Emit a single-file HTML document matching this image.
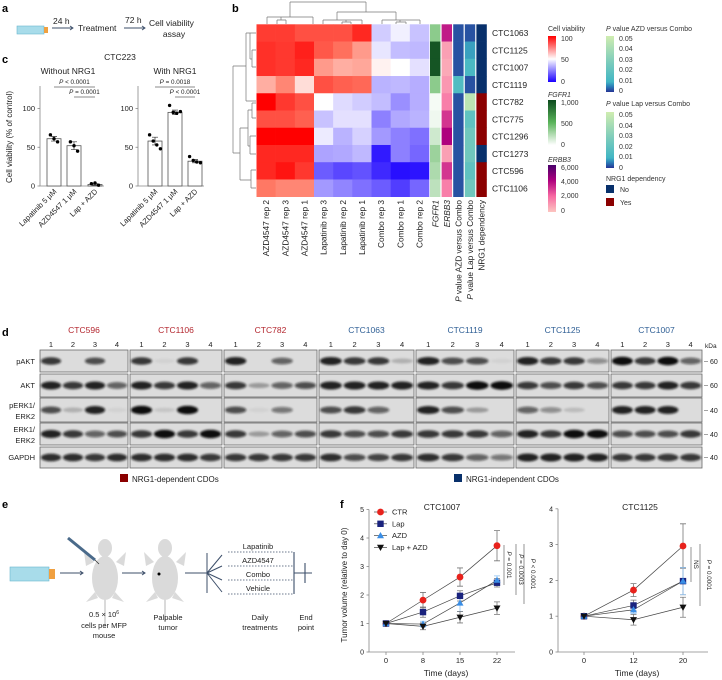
<!DOCTYPE html>
<html><head><meta charset="utf-8"><style>
html,body{margin:0;padding:0;background:#fff;}
svg{display:block;font-family:"Liberation Sans",sans-serif;}
</style></head><body>
<svg id="fig" width="722" height="680" viewBox="0 0 722 680" xmlns="http://www.w3.org/2000/svg">
<defs>
<linearGradient id="gViab" x1="0" y1="0" x2="0" y2="1"><stop offset="0" stop-color="#ff0000"/><stop offset="0.5" stop-color="#ffffff"/><stop offset="1" stop-color="#1a00ff"/></linearGradient>
<linearGradient id="gFg" x1="0" y1="0" x2="0" y2="1"><stop offset="0" stop-color="#0d4a1e"/><stop offset="0.5" stop-color="#5ab45a"/><stop offset="1" stop-color="#ffffff"/></linearGradient>
<linearGradient id="gEr" x1="0" y1="0" x2="0" y2="1"><stop offset="0" stop-color="#49006a"/><stop offset="0.33" stop-color="#ae017e"/><stop offset="0.66" stop-color="#f768a1"/><stop offset="1" stop-color="#fcc5c0"/></linearGradient>
<linearGradient id="gP" x1="0" y1="0" x2="0" y2="1"><stop offset="0" stop-color="#d0edb0"/><stop offset="0.45" stop-color="#7fcdbb"/><stop offset="0.82" stop-color="#41b6c4"/><stop offset="0.9" stop-color="#2c7fb8"/><stop offset="1" stop-color="#253494"/></linearGradient>
<filter id="blur" x="-20%" y="-50%" width="140%" height="200%"><feGaussianBlur stdDeviation="1.1"/></filter>
</defs>
<g font-weight="bold" font-size="11">
<text x="2" y="12">a</text>
<text x="232" y="12">b</text>
<text x="2" y="63">c</text>
<text x="2" y="336">d</text>
<text x="2" y="508">e</text>
<text x="340" y="508">f</text>
</g>
<g font-size="8.5" fill="#222">
<rect x="17" y="26" width="27" height="8" fill="#a8dcea" stroke="#6ab7cf" stroke-width="0.6"/>
<rect x="44" y="27" width="4" height="6" fill="#f0a040"/>
<text x="53" y="24">24 h</text>
<path d="M52 28 H73 M70 26 L73 28 L70 30" stroke="#3d4f6a" fill="none" stroke-width="0.9"/>
<text x="78" y="31">Treatment</text>
<text x="125" y="23">72 h</text>
<path d="M124 28 H145 M142 26 L145 28 L142 30" stroke="#3d4f6a" fill="none" stroke-width="0.9"/>
<text x="149" y="26">Cell viability</text>
<text x="174" y="37" text-anchor="middle">assay</text>
</g>
<g font-size="7.5" fill="#222">
<rect x="10" y="567" width="39" height="14" fill="#a8dcea" stroke="#6ab7cf" stroke-width="0.6"/>
<rect x="49" y="569" width="6" height="10" fill="#f0a040"/>
<path d="M60 573 H83 M80 571 L83 573 L80 575" stroke="#3d4f6a" fill="none"/>
<g fill="#dadada">
<ellipse cx="105" cy="548" rx="7" ry="9"/><ellipse cx="105" cy="578" rx="13" ry="22"/>
<path d="M94 562 L84 552 L86 566 Z M116 562 L126 552 L124 566 Z M95 592 L86 602 L98 598 Z M115 592 L124 602 L112 598 Z"/>
<rect x="104" y="598" width="2" height="30"/>
</g>
<path d="M68 538 L95 560" stroke="#4a6a8a" stroke-width="3"/>
<path d="M95 560 L99 564" stroke="#333" stroke-width="0.8"/>
<path d="M122 573 H145 M142 571 L145 573 L142 575" stroke="#3d4f6a" fill="none"/>
<g fill="#dadada">
<ellipse cx="165" cy="548" rx="7" ry="9"/><ellipse cx="165" cy="578" rx="13" ry="22"/>
<path d="M154 562 L144 552 L146 566 Z M176 562 L186 552 L184 566 Z M155 592 L146 602 L158 598 Z M175 592 L184 602 L172 598 Z"/>
<rect x="164" y="598" width="2" height="24"/>
</g>
<circle cx="159" cy="574" r="1.5" fill="#000"/>
<path d="M185 573 H207 M207 553 V593 M207 573 L222 555 M207 573 L222 566 M207 573 L222 580 M207 573 L222 592" stroke="#3d4f6a" fill="none" stroke-width="1"/>
<path d="M228 552 H293 M228 566 H293 M228 580 H293 M228 594 H293" stroke="#3d4f6a" stroke-dasharray="1.5,1.5" stroke-width="0.7"/>
<path d="M294 552 V594 M294 573 H312 M305 563 V583" stroke="#3d4f6a" stroke-width="1.1" fill="none"/>
<g text-anchor="middle">
<text x="258" y="549">Lapatinib</text>
<text x="258" y="563">AZD4547</text>
<text x="258" y="577">Combo</text>
<text x="258" y="591">Vehicle</text>
<text x="104" y="617">0.5 × 10<tspan dy="-3" font-size="5">6</tspan></text>
<text x="104" y="628">cells per MFP</text>
<text x="104" y="638">mouse</text>
<text x="168" y="620">Palpable</text>
<text x="168" y="630">tumor</text>
<text x="260" y="620">Daily</text>
<text x="260" y="630">treatments</text>
<text x="306" y="620">End</text>
<text x="306" y="630">point</text>
</g>
</g>
<g font-size="7" fill="#333">
<text x="548" y="31">Cell viability</text>
<rect x="548" y="36" width="8" height="46" fill="url(#gViab)"/>
<text x="561" y="41">100</text><text x="561" y="62">50</text><text x="561" y="84">0</text>
<text x="548" y="97" font-style="italic">FGFR1</text>
<rect x="548" y="100" width="8" height="45" fill="url(#gFg)"/>
<text x="561" y="105">1,000</text><text x="561" y="126">500</text><text x="561" y="147">0</text>
<text x="548" y="162" font-style="italic">ERBB3</text>
<rect x="548" y="165" width="8" height="47" fill="url(#gEr)"/>
<text x="561" y="170">6,000</text><text x="561" y="184">4,000</text><text x="561" y="198">2,000</text><text x="561" y="213">0</text>
<text x="606" y="31"><tspan font-style="italic">P</tspan> value AZD versus Combo</text>
<rect x="606" y="36" width="8" height="56" fill="url(#gP)"/>
<text x="619" y="41">0.05</text><text x="619" y="51">0.04</text><text x="619" y="62">0.03</text><text x="619" y="72">0.02</text><text x="619" y="83">0.01</text><text x="619" y="93">0</text>
<text x="606" y="106"><tspan font-style="italic">P</tspan> value Lap versus Combo</text>
<rect x="606" y="112" width="8" height="56" fill="url(#gP)"/>
<text x="619" y="117">0.05</text><text x="619" y="128">0.04</text><text x="619" y="138">0.03</text><text x="619" y="149">0.02</text><text x="619" y="159">0.01</text><text x="619" y="170">0</text>
<text x="606" y="181">NRG1 dependency</text>
<rect x="606" y="185" width="8" height="8" fill="#08306b"/><text x="620" y="192">No</text>
<rect x="606" y="198" width="8" height="8" fill="#8b0000"/><text x="620" y="205">Yes</text>
</g>
<path d="M290 2 H366 M290 2 V17 M366 2 V12 M267 17 H313 M267 17 V24 M313 17 V24 M281 17 V20 M277 20 H286 M277 20 V24 M286 20 V24 M337 12 H396 M337 12 V20 M396 12 V20 M323 20 H362 M323 20 V24 M362 20 V24 M346 20 V22 M342 22 H351 M342 22 V24 M351 22 V24 M382 20 H420 M382 20 V24 M420 20 V24 M400 20 V22 M396 22 H406 M396 22 V24 M406 22 V24" stroke="#777" stroke-width="0.7" fill="none"/>
<path d="M233 66 V153 M233 66 H246 M233 153 H240 M246 33 V101 M246 101 H256 M246 33 H250 M250 33 V59 M250 33 H256 M250 59 H252 M252 50 V67 M252 50 H256 M252 67 H256 M240 128 V180 M240 128 H248 M240 180 H251 M251 170 V188 M251 170 H256 M251 188 H256 M248 110 V146 M248 110 H252 M252 103 V118 M252 103 H256 M252 118 H256 M248 146 H250 M250 136 V154 M250 136 H256 M250 154 H256" stroke="#777" stroke-width="0.7" fill="none"/>
<g id="heat"></g>
<g id="cc"></g>
<g id="blots"></g>
<g id="ff"></g>
</svg>
<script>
const heatCols = ["AZD4547  rep 2","AZD4547 rep 3","AZD4547 rep 1","Lapatinib rep 3","Lapatinib rep 2","Lapatinib rep 1","Combo rep 3","Combo rep 1","Combo rep 2"];
const heatRows = ["CTC1063","CTC1125","CTC1007","CTC1119","CTC782","CTC775","CTC1296","CTC1273","CTC596","CTC1106"];
const viability = [
 [85,85,80,80,80,90,40,47,38],
 [88,86,92,78,72,65,45,37,36],
 [88,86,90,65,62,63,52,50,44],
 [62,68,55,80,76,74,35,36,34],
 [100,86,80,50,43,40,37,28,34],
 [80,80,76,38,44,44,25,33,35],
 [100,100,100,46,35,41,30,25,22],
 [90,90,90,32,33,36,5,25,20],
 [90,95,86,18,14,16,8,3,4],
 [70,68,68,30,26,22,18,12,20]];
const fgfr1 = [350,950,950,350,30,50,150,300,250,200];
const erbb3 = [3500,800,600,1000,1500,3000,4000,800,3000,1500];
const pAzd = [0.002,0.002,0.002,0.015,0.002,0.002,0.002,0.002,0.002,0.002];
const pLap = [0.002,0.008,0.013,0.002,0.045,0.02,0.025,0.025,0.02,0.025];
const nrg1Dep = ["No","No","No","No","Yes","Yes","Yes","No","Yes","Yes"];
const annCols = ["FGFR1","ERBB3","P value AZD versus Combo","P value Lap versus Combo","NRG1 dependency"];
const cCats = ["Lapatinib 5 μM","AZD4547 1 μM","Lap + AZD"];
const cTicks = [0,50,100];
const withoutMeans = [61,52,2];
const withoutErr = [3,5,1];
const withoutDots = [[66,61,57],[57,52,45],[3,4,1]];
const withMeans = [58,95,32];
const withErr = [5,3,2];
const withDots = [[66,58,53,48],[104,95,94,96],[38,33,31,30]];
const daysL = [0,8,15,22];
const daysR = [0,12,20];
const ticksL = [0,1,2,3,4,5];
const ticksR = [0,1,2,3,4];
const seriesNames = ["CTR","Lap","AZD","Lap + AZD"];
const ctrL = [1,1.82,2.63,3.73], ctrLe=[0,0.27,0.32,0.53];
const lapL = [1,1.40,1.97,2.43], lapLe=[0,0.18,0.18,0.15];
const azdL = [1,0.98,1.72,2.52], azdLe=[0,0.1,0.3,0.15];
const comboL=[1,0.90,1.22,1.54], comboLe=[0,0.12,0.2,0.22];
const ctrR = [1,1.73,2.96], ctrRe=[0,0.18,0.62];
const lapR = [1,1.30,1.98], lapRe=[0,0.15,0.38];
const azdR = [1,1.18,1.98], azdRe=[0,0.1,0.38];
const comboR=[1,0.90,1.25], comboRe=[0,0.15,0.28];
const blotGroups = ["CTC596","CTC1106","CTC782","CTC1063","CTC1119","CTC1125","CTC1007"];
const blotRowsNames = ["pAKT","AKT","pERK1/ERK2","ERK1/ERK2","GAPDH"];
const bandPAKT = [[.8,0,.7,0],[.8,.05,.8,0],[.9,0,.6,0],[.9,.8,.8,.2],[.9,.7,.7,.05],[.9,.8,.8,.4],[1,.8,1,.6]];
const bandAKT = [[.9,.8,.9,.6],[.9,.8,.9,.6],[.8,.3,.6,.7],[.9,.9,.9,.9],[.9,.8,1,1],[.8,.7,.8,.7],[.8,.8,.9,.8]];
const bandPERK = [[.7,.2,.9,.05],[1,.1,1,0],[.7,.05,.5,0],[.7,.8,.6,0],[.9,.7,.3,0],[.6,.4,.15,0],[.9,.9,.9,0]];
const bandERK = [[.9,.8,.6,.7],[.8,1,.8,1],[.8,.3,.6,.7],[.8,.7,.7,.8],[.8,.8,.8,.6],[.9,.8,1,1],[.7,.7,.7,.8]];
const bandGAPDH = [[.85,.85,.8,.85],[.85,.85,.85,.8],[.8,.8,.8,.8],[.85,.7,.75,.8],[.85,.8,.6,.5],[.9,.9,.9,.9],[.8,.8,.8,.8]];

const NS="http://www.w3.org/2000/svg";
function mk(tag, attrs, parent){const e=document.createElementNS(NS,tag);for(const k in attrs)e.setAttribute(k,attrs[k]);parent.appendChild(e);return e;}
function lerp(a,b,t){return Math.round(a+(b-a)*t);}
function mix(c1,c2,t){return `rgb(${lerp(c1[0],c2[0],t)},${lerp(c1[1],c2[1],t)},${lerp(c1[2],c2[2],t)})`;}
function ramp(stops,v){for(let i=0;i<stops.length-1;i++){if(v<=stops[i+1][0]){const t=(v-stops[i][0])/(stops[i+1][0]-stops[i][0]);return mix(stops[i][1],stops[i+1][1],Math.max(0,Math.min(1,t)));}}return mix(stops[stops.length-1][1],stops[stops.length-1][1],0);}
const viabStops=[[0,[26,0,255]],[50,[255,255,255]],[70,[255,120,100]],[100,[255,0,0]]];
const fgStops=[[0,[255,255,255]],[500,[90,180,90]],[1000,[13,74,30]]];
const erStops=[[0,[252,197,192]],[2000,[247,104,161]],[4000,[174,1,126]],[6000,[73,0,106]]];
const pStops=[[0,[37,52,148]],[0.005,[44,127,184]],[0.01,[65,182,196]],[0.03,[127,205,187]],[0.05,[208,237,176]]];

const heat=document.getElementById('heat');
const hx0=256.5,hy0=24.3,cw=(429-256.5)/9,rh=(196.7-24.3)/10,aw=11.6,ax0=430;
const hxC=i=>hx0+i*cw, hyR=j=>hy0+j*rh;
viability.forEach((row,j)=>row.forEach((v,i)=>{
  const r=mk('rect',{x:hxC(i),y:hyR(j),width:cw+0.3,height:rh+0.3,fill:ramp(viabStops,v)},heat);
  
  
}));
const annFns=[j=>ramp(fgStops,fgfr1[j]),j=>ramp(erStops,erbb3[j]),j=>ramp(pStops,pAzd[j]),j=>ramp(pStops,pLap[j]),j=>nrg1Dep[j]==="Yes"?"#8b0000":"#08306b"];
annFns.forEach((fn,c)=>{heatRows.forEach((_,j)=>{
  const r=mk('rect',{x:ax0+c*aw,y:hyR(j),width:aw-1.2,height:rh+0.3,fill:fn(j)},heat);
  
  
});});
heatRows.forEach((n,j)=>{
  const t=mk('text',{x:492,y:hyR(j)+rh/2+3.2,'font-size':8.5,fill:'#222'},heat);t.textContent=n;
  
  
});
heatCols.forEach((n,i)=>{
  const cx=hxC(i)+cw/2+3;
  const t=mk('text',{x:cx,y:200,'font-size':8.3,fill:'#222','text-anchor':'end',transform:`rotate(-90 ${cx} 200)`},heat);t.textContent=n;
  
  
});
annCols.forEach((n,c)=>{
  const cx=ax0+c*aw+aw/2+2.5;
  const t=mk('text',{x:cx,y:200,'font-size':8.3,fill:'#222','text-anchor':'end',transform:`rotate(-90 ${cx} 200)`},heat);
  if(n.startsWith("P value")){t.innerHTML='<tspan font-style="italic">P</tspan>'+n.slice(1);}else{t.textContent=n;if(c<2)t.setAttribute('font-style','italic');}
  
  
});

const cc=document.getElementById('cc');
function txt(parent,x,y,s,attrs){const t=mk('text',Object.assign({x:x,y:y,'font-size':7.5,fill:'#222'},attrs||{}),parent);t.textContent=s;return t;}
let t0=txt(cc,120,60,"CTC223",{'text-anchor':'middle','font-size':8.5});


function barChart(axX,centers,means,errs,dots,title,titleX,pa,pb){
  const y=v=>186-v*0.775;
  const g=mk('g',{},cc);
  
  
  let tt=txt(g,titleX,74,title,{'text-anchor':'middle','font-size':8.5});
  
  
  let ax=mk('path',{d:`M${axX} 86 V${y(0)} H${centers[2]+9}`,stroke:'#888','stroke-width':0.8,fill:'none'},g);
  
  
  cTicks.forEach(v=>{mk('path',{d:`M${axX-2.5} ${y(v)} H${axX}`,stroke:'#888','stroke-width':0.8},g);
    const l=txt(g,axX-5,y(v)+2.6,String(v),{'text-anchor':'end'});
    
    });
  means.forEach((m,i)=>{
    const b=mk('rect',{x:centers[i]-7,y:y(m),width:14,height:y(0)-y(m),fill:'#fff',stroke:'#555','stroke-width':0.8},g);
    
    
    mk('path',{d:`M${centers[i]} ${y(m-errs[i])} V${y(m+errs[i])} M${centers[i]-3} ${y(m+errs[i])} H${centers[i]+3} M${centers[i]-3} ${y(m-errs[i])} H${centers[i]+3}`,stroke:'#333','stroke-width':0.7},g);
    dots[i].forEach((d,k)=>{const n=dots[i].length;const dx=(k-(n-1)/2)*3.6;
      const c=mk('circle',{cx:centers[i]+dx,cy:y(d),r:1.7,fill:'#000'},g);
      
      });
    const lx=centers[i]+3,ly=192;
    const l=txt(g,lx,ly,cCats[i],{'text-anchor':'end',transform:`rotate(-45 ${lx} ${ly})`});
    
    
  });
  mk('path',{d:`M${centers[0]} 87 H${centers[2]} M${centers[1]} 97 H${centers[2]}`,stroke:'#666','stroke-width':0.7},g);
  let p1=txt(g,(centers[0]+centers[2])/2,84,'',{'text-anchor':'middle','font-size':6.3});p1.innerHTML='<tspan font-style="italic">P</tspan> '+pa;
  
  
  let p2=txt(g,(centers[1]+centers[2])/2,94,'',{'text-anchor':'middle','font-size':6.3});p2.innerHTML='<tspan font-style="italic">P</tspan> '+pb;
  
  
}
barChart(40,[54,74,95],withoutMeans,withoutErr,withoutDots,"Without NRG1",68,"< 0.0001","= 0.0001");
barChart(138,[155,175,195],withMeans,withErr,withDots,"With NRG1",175,"= 0.0018","< 0.0001");
let yt=txt(cc,12,137,"Cell viability (% of control)",{'text-anchor':'middle','font-size':8,transform:'rotate(-90 12 137)'});



const blots=document.getElementById('blots');
const gx=[39,129,223,318,415,515,610,703];
const rowsY=[[350,372],[374,397],[398,422],[423,445],[447,468]];
const bandData=[bandPAKT,bandAKT,bandPERK,bandERK,bandGAPDH];
const grpColor=["#b3262e","#b3262e","#b3262e","#2f5f95","#2f5f95","#2f5f95","#2f5f95"];
blotGroups.forEach((gname,gi)=>{
  const x0=gx[gi]+1,x1=gx[gi+1]-1,w=x1-x0,lw=w/4;
  let t=txt(blots,(x0+x1)/2,333,gname,{'text-anchor':'middle','font-size':8.5,fill:grpColor[gi]});
  
  
  for(let l=0;l<4;l++){const n=txt(blots,x0+lw*(l+0.5),347,String(l+1),{'text-anchor':'middle','font-size':7.5});
    
    }
  rowsY.forEach((ry,ri)=>{
    const r=mk('rect',{x:x0,y:ry[0],width:w,height:ry[1]-ry[0],fill:'#dcdcdc',stroke:'#6a6a6a','stroke-width':0.8},blots);
    
    
    const cy=(ry[0]+ry[1])/2;
    bandData[ri][gi].forEach((v,l)=>{if(v<=0)return;
      const b=mk('ellipse',{cx:x0+lw*(l+0.5),cy:cy,rx:lw*0.46,ry:2+2.2*v,fill:'#111','fill-opacity':v,filter:'url(#blur)'},blots);
      
      });
  });
});
const leftLabels=[["pAKT",364],["AKT",388],["pERK1/",408],["ERK2",419],["ERK1/",432],["ERK2",443],["GAPDH",460]];
leftLabels.forEach(([s,yy])=>{const t=txt(blots,35,yy,s,{'text-anchor':'end','font-size':7.5});
  
  });
let kd=txt(blots,705,348,"kDa",{'font-size':6.5});


[["60",364],["60",388],["40",413],["40",437],["40",460]].forEach(([s,yy])=>{
  const t=txt(blots,710,yy,s,{'font-size':7});
  
  
  mk('path',{d:`M704 ${yy-2.5} H708`,stroke:'#666','stroke-width':0.6},blots);});
let ls1=mk('rect',{x:120,y:474,width:8,height:8,fill:'#8b0000'},blots);


let lt1=txt(blots,132,482,"NRG1-dependent CDOs",{'font-size':8});


let ls2=mk('rect',{x:454,y:474,width:8,height:8,fill:'#08306b'},blots);


let lt2=txt(blots,466,482,"NRG1-independent CDOs",{'font-size':8});



const ff=document.getElementById('ff');
const colors=["#e8221c","#1a237e","#3a8ee6","#111"];
function marker(g,k,x,y){
  let m;
  if(k===0)m=mk('circle',{cx:x,cy:y,r:3.4,fill:colors[0]},g);
  else if(k===1)m=mk('rect',{x:x-3.2,y:y-3.2,width:6.4,height:6.4,fill:colors[1]},g);
  else if(k===2)m=mk('path',{d:`M${x} ${y-3.6} L${x+3.5} ${y+2.6} L${x-3.5} ${y+2.6} Z`,fill:colors[2]},g);
  else m=mk('path',{d:`M${x} ${y+3.6} L${x+3.5} ${y-2.6} L${x-3.5} ${y-2.6} Z`,fill:colors[3]},g);
  
  
}
function lineChart(axX,axEnd,xCat,days,ticks,yUnit,data,errs,title,titleX){
  const g=mk('g',{},ff);
  
  
  const y=v=>652-v*yUnit;
  const top=y(ticks[ticks.length-1]);
  let ax=mk('path',{d:`M${axX} ${top} V652 H${axEnd}`,stroke:'#888','stroke-width':0.8,fill:'none'},g);
  
  
  ticks.forEach(v=>{mk('path',{d:`M${axX-2.5} ${y(v)} H${axX}`,stroke:'#888','stroke-width':0.8},g);
    const l=txt(g,axX-5,y(v)+2.5,String(v),{'text-anchor':'end','font-size':7});
    
    });
  days.forEach((d,i)=>{mk('path',{d:`M${xCat(i)} 652 V655`,stroke:'#888','stroke-width':0.8},g);
    const l=txt(g,xCat(i),663,String(d),{'text-anchor':'middle','font-size':7.5});
    
    });
  let xt=txt(g,(axX+axEnd)/2+4,676,"Time (days)",{'text-anchor':'middle','font-size':8.5});
  
  
  let tt=txt(g,titleX,510,title,{'text-anchor':'middle','font-size':8.5});
  
  
  data.forEach((s,k)=>{
    const ln=mk('polyline',{points:s.map((v,i)=>`${xCat(i)},${y(v)}`).join(' '),fill:'none',stroke:'#444','stroke-width':0.7},g);
    
    
  });
  data.forEach((s,k)=>{
    s.forEach((v,i)=>{const e=errs[k][i];if(e>0){
      const eb=mk('path',{d:`M${xCat(i)} ${y(v-e)} V${y(v+e)} M${xCat(i)-3} ${y(v+e)} H${xCat(i)+3} M${xCat(i)-3} ${y(v-e)} H${xCat(i)+3}`,stroke:k===2?'#8cc0f0':'#777','stroke-width':0.8},g);
      
      }});
  });
  data.forEach((s,k)=>s.forEach((v,i)=>marker(g,k,xCat(i),y(v))));
  return {g:g,y:y};
}
const L=lineChart(369,515,i=>386+i*37,daysL,ticksL,28.5,[ctrL,lapL,azdL,comboL],[ctrLe,lapLe,azdLe,comboLe],"CTC1007",442);
const R=lineChart(558,708,i=>584+i*49.5,daysR,ticksR,35.8,[ctrR,lapR,azdR,comboR],[ctrRe,lapRe,azdRe,comboRe],"CTC1125",640);
seriesNames.forEach((n,k)=>{
  const yy=512+k*11.8;
  mk('path',{d:`M374 ${yy} H387`,stroke:'#444','stroke-width':0.7},ff);
  marker(ff,k,380.5,yy);
  const t=txt(ff,392,yy+2.6,n,{'font-size':7.5});
  
  
});
let fy=txt(ff,347,585,"Tumor volume (relative to day 0)",{'text-anchor':'middle','font-size':8,transform:'rotate(-90 347 585)'});


function vpv(x,y1,y2,s,tx){
  mk('path',{d:`M${x} ${y1} V${y2}`,stroke:'#666','stroke-width':0.7},ff);
  const cy=(y1+y2)/2;
  const t=txt(ff,tx,cy,'',{'text-anchor':'middle','font-size':6.3,transform:`rotate(90 ${tx} ${cy})`});
  t.innerHTML=s;
  
  
}
vpv(504,545,585,'<tspan font-style="italic">P</tspan> = 0.001',507);
vpv(516,544,595,'<tspan font-style="italic">P</tspan> = 0.0003',519);
vpv(524,544,604,'<tspan font-style="italic">P</tspan> &lt; 0.0001',531);
vpv(691,547,582,'NS',694);
vpv(700,544,606,'<tspan font-style="italic">P</tspan> = 0.0001',707);
</script>
</body></html>
